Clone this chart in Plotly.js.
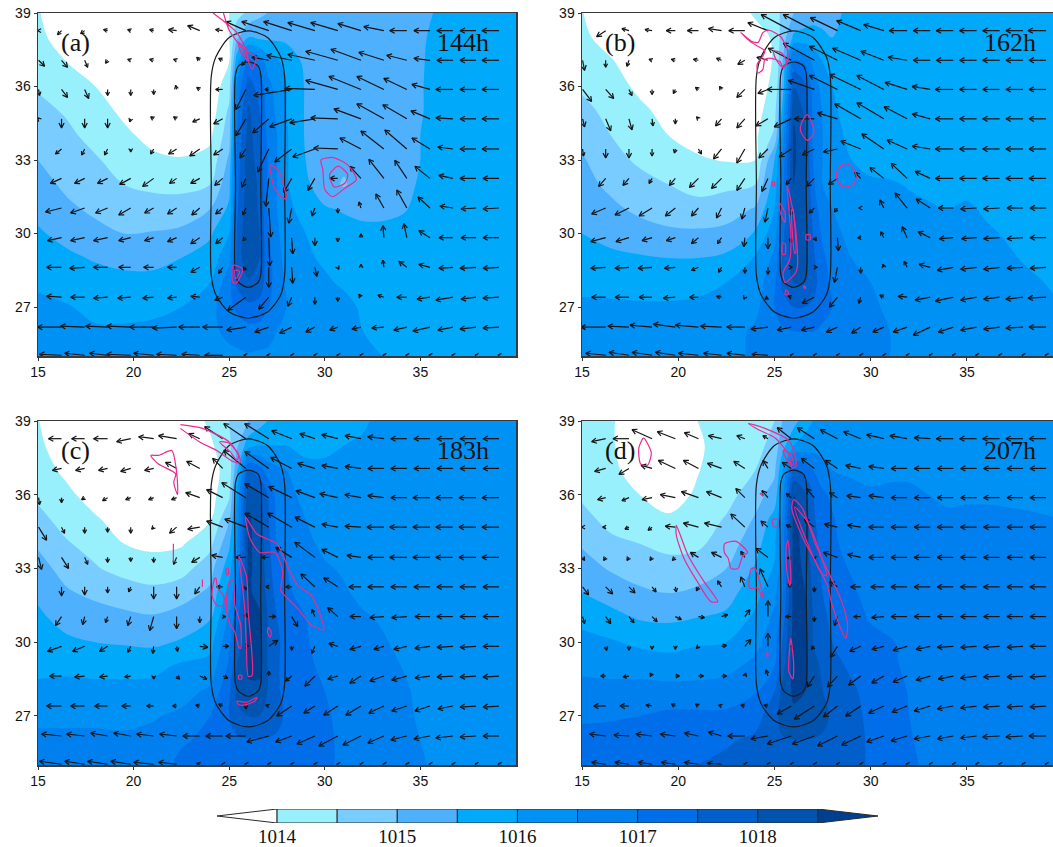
<!DOCTYPE html>
<html><head><meta charset="utf-8">
<script src="https://cdn.plot.ly/plotly-3.0.1.min.js"></script>
<style>html,body{margin:0;padding:0;background:#fff;overflow:hidden}#g{width:1053px;height:847px}</style>
</head><body><div id="g"></div>
<script>
// pressure grid: one list per longitude, south (25N) to north (39N), hPa minus 1000
const gridLons=[15,16.5,18,19.5,21,22.5,24,25,25.4,26,26.6,27,27.5,28,29,30,31,32,33,34,35,36,38,40];
const gridLats=[25,26,27,28,29,30,31,32,33,34,35,36,37,38,39];
const pressA=[
[16.2,16.15,16.1,15.93,15.74,15.56,15.37,15.19,15,14.8,14.63,14.45,14.3,14.1,14.05],
[16.15,16.1,16.03,15.8,15.6,15.35,15.1,14.9,14.75,14.6,14.45,14.25,14,13.8,13.5],
[16.15,16.05,15.9,15.72,15.45,15.15,14.9,14.75,14.55,14.35,14.2,14,13.7,13.5,13.3],
[16.15,16.05,15.9,15.65,15.35,15,14.75,14.5,14.3,14.1,13.9,13.7,13.5,13.3,13.2],
[16.2,16.1,15.9,15.65,15.35,15.03,14.7,14.4,14.1,13.85,13.7,13.6,13.5,13.3,13.2],
[16.25,16.15,16,15.75,15.5,15.1,14.75,14.35,14.03,13.8,13.65,13.6,13.5,13.4,13.3],
[16.3,16.4,16.3,16,15.7,15.43,15,14.5,14.15,13.9,13.7,13.65,13.6,13.5,13.5],
[16.4,16.6,16.9,16.8,16.4,16,15.6,15.35,15.1,14.8,14.6,14.3,14,14,14],
[16.4,16.7,17.1,17.6,17.6,17.55,17.4,17.3,17.2,17,16.9,16.6,15.8,14.9,14.3],
[16.45,16.8,17.4,17.9,18.5,18.5,18.4,18.3,18.3,18.2,18.1,17.7,17.2,15.5,14.6],
[16.4,16.8,17.3,17.8,18,18,17.9,17.9,17.7,17.6,17.5,17.3,16.8,15.4,14.9],
[16.4,16.7,17.05,17.2,17.2,17.1,17,17,17,16.9,16.8,16.7,16.3,15.4,15],
[16.3,16.5,16.8,16.8,16.7,16.6,16.5,16.5,16.5,16.5,16.4,16.3,16.1,15.4,15.1],
[16.25,16.4,16.5,16.4,16.3,16.2,16.1,16.05,16.05,16.05,16,16,15.8,15.4,15.2],
[16.2,16.2,16.2,16.1,16.05,16,15.85,15.6,15.5,15.45,15.45,15.45,15.4,15.3,15.25],
[16.15,16.2,16.15,16.05,15.95,15.9,15.55,15.2,15.25,15.3,15.35,15.35,15.3,15.3,15.25],
[16.1,16.1,16.1,15.95,15.9,15.7,15.45,14.95,15.1,15.2,15.3,15.3,15.3,15.3,15.25],
[16.05,16,15.95,15.9,15.85,15.6,15.4,15.25,15.2,15.25,15.3,15.3,15.3,15.3,15.25],
[16,15.95,15.9,15.85,15.8,15.6,15.4,15.3,15.3,15.3,15.3,15.3,15.3,15.3,15.25],
[15.95,15.9,15.85,15.8,15.75,15.65,15.45,15.35,15.35,15.35,15.35,15.35,15.35,15.35,15.35],
[15.9,15.9,15.85,15.8,15.75,15.7,15.6,15.55,15.5,15.5,15.48,15.48,15.47,15.45,15.4],
[15.9,15.85,15.85,15.8,15.75,15.7,15.65,15.65,15.6,15.6,15.6,15.6,15.6,15.6,15.55],
[15.85,15.85,15.85,15.8,15.75,15.75,15.7,15.7,15.7,15.7,15.7,15.7,15.7,15.7,15.65],
[15.85,15.85,15.8,15.8,15.8,15.75,15.75,15.75,15.75,15.75,15.75,15.75,15.75,15.75,15.7]];
const pressB=[
[16.2,16.15,16.07,15.9,15.7,15.5,15.32,15.15,15.05,14.85,14.65,14.42,14.25,14.1,14.02],
[16.2,16.1,16.05,15.9,15.6,15.35,15.1,14.9,14.7,14.5,14.35,14.2,14.05,13.8,13.6],
[16.2,16.15,16.05,15.85,15.55,15.2,14.9,14.7,14.4,14.25,14.1,13.9,13.7,13.5,13.4],
[16.25,16.15,16.05,15.85,15.5,15.1,14.75,14.5,14.2,14,13.85,13.7,13.55,13.4,13.3],
[16.3,16.2,16.1,15.85,15.5,15.1,14.6,14.4,14.05,13.85,13.75,13.65,13.55,13.4,13.3],
[16.4,16.25,16.15,16,15.6,15.15,14.75,14.4,13.97,13.85,13.8,13.7,13.6,13.5,13.5],
[16.55,16.6,16.35,16.2,16.05,15.55,15.05,14.5,14,13.9,13.8,13.7,13.7,13.7,14.1],
[16.6,16.8,17,16.9,16.6,16.3,16,15.75,15.5,14.6,14.3,14.15,14.05,14.1,14.3],
[16.65,16.9,17.3,17.6,17.5,17.3,17,16.8,16.6,16.1,15.6,15.1,14.9,14.7,14.6],
[16.7,17,17.5,18,18.3,18.4,18.4,18.5,18.6,18.6,18.4,18,17.2,15.6,15],
[16.7,17,17.5,18,18.2,18.2,18.2,18.1,18.1,18,17.9,17.6,16.9,15.7,15.2],
[16.7,17,17.4,17.7,17.6,17.5,17.3,17.1,17,16.9,16.9,16.8,16.4,15.7,15.3],
[16.7,16.9,17.2,17.2,17.1,16.9,16.7,16.5,16.5,16.5,16.45,16.3,16,15.6,15.3],
[16.65,16.85,17,16.9,16.8,16.7,16.5,16.3,16.2,16.15,16.1,16,15.8,15.5,15.4],
[16.6,16.7,16.7,16.6,16.5,16.3,16.2,16.1,16,15.9,15.75,15.7,15.6,15.6,15.6],
[16.6,16.6,16.6,16.5,16.4,16.2,16.15,16.05,15.9,15.8,15.7,15.7,15.65,15.6,15.6],
[16.5,16.5,16.4,16.3,16.2,16.15,16.1,16.05,15.8,15.7,15.7,15.7,15.65,15.65,15.6],
[16.45,16.4,16.3,16.25,16.2,16.15,16.1,15.97,15.8,15.7,15.7,15.7,15.7,15.65,15.65],
[16.4,16.35,16.3,16.25,16.2,16.15,16.05,15.9,15.8,15.75,15.7,15.7,15.7,15.7,15.65],
[16.35,16.3,16.3,16.25,16.2,16.1,16,15.9,15.8,15.75,15.75,15.7,15.7,15.7,15.7],
[16.3,16.3,16.25,16.2,16.15,16.1,16.05,15.9,15.8,15.75,15.75,15.75,15.7,15.7,15.7],
[16.3,16.25,16.2,16.15,16.1,16.05,15.95,15.85,15.8,15.75,15.75,15.75,15.75,15.7,15.7],
[16.2,16.15,16.1,16.05,15.98,15.9,15.85,15.8,15.8,15.75,15.75,15.75,15.75,15.75,15.7],
[16.1,16.05,16,15.95,15.9,15.85,15.8,15.8,15.8,15.75,15.75,15.75,15.75,15.75,15.7]];
const pressC=[
[16.7,16.6,16.4,16.1,15.9,15.7,15.6,15.4,15.15,14.95,14.65,14.4,14.2,14.1,14.02],
[16.7,16.6,16.4,16.15,15.9,15.6,15.3,15.05,14.85,14.55,14.3,14.1,13.9,13.7,13.6],
[16.7,16.6,16.4,16.15,15.85,15.5,15.2,14.9,14.55,14.3,14.05,13.8,13.6,13.5,13.4],
[16.7,16.6,16.35,16.15,15.85,15.45,15.1,14.8,14.3,14,13.8,13.6,13.5,13.4,13.4],
[16.8,16.65,16.45,16.2,15.85,15.4,15.05,14.65,14.2,13.9,13.7,13.6,13.5,13.5,13.5],
[17.1,16.95,16.6,16.3,16.1,15.55,15.2,14.8,14.3,13.95,13.7,13.6,13.5,13.6,13.6],
[17.2,17.1,17,16.6,16.2,15.8,15.45,15.1,14.8,14.35,13.95,13.8,13.8,13.9,14.1],
[17.15,17.3,17.5,17.4,17.1,16.9,16.6,16.2,15.8,15.4,14.95,14.4,14.2,14.4,14.5],
[17.25,17.4,17.9,18.1,18,17.7,17.3,16.9,16.6,16.4,16.2,16,15.4,14.9,14.7],
[17.3,17.45,18,18.4,18.6,18.6,18.6,18.6,18.6,18.6,18.6,18.3,17.5,15.8,15],
[17.3,17.45,18,18.4,18.6,18.6,18.6,18.3,18.3,18.3,18.2,18,17.2,16,15.3],
[17.3,17.45,17.9,18,18,18,18,17.9,17.8,17.7,17.6,17.5,16.8,16,15.5],
[17.25,17.4,17.7,17.6,17.6,17.6,17.5,17.3,17.1,17,16.9,16.8,16.6,16,15.6],
[17.2,17.3,17.4,17.3,17.2,17.3,17.2,17.1,17,16.8,16.7,16.6,16.5,16,15.7],
[17.2,17.2,17.2,17.2,17.1,17.05,17,16.8,16.7,16.6,16.5,16.4,16.1,15.9,15.8],
[17.05,17.05,17.05,17,16.9,16.8,16.7,16.6,16.55,16.4,16.3,16.2,16.1,15.9,15.8],
[16.95,16.95,16.9,16.8,16.75,16.7,16.6,16.55,16.45,16.3,16.2,16.15,16.1,16,15.85],
[16.85,16.85,16.8,16.75,16.7,16.6,16.55,16.4,16.3,16.2,16.2,16.15,16.1,16.05,15.95],
[16.8,16.75,16.7,16.65,16.6,16.55,16.45,16.3,16.25,16.2,16.2,16.15,16.1,16.1,16.1],
[16.7,16.65,16.6,16.6,16.5,16.4,16.35,16.3,16.25,16.2,16.2,16.15,16.15,16.1,16.1],
[16.55,16.5,16.45,16.4,16.4,16.35,16.3,16.3,16.25,16.2,16.2,16.2,16.15,16.15,16.1],
[16.4,16.4,16.35,16.35,16.3,16.3,16.3,16.25,16.25,16.2,16.2,16.2,16.2,16.15,16.15],
[16.35,16.35,16.3,16.3,16.3,16.25,16.25,16.25,16.2,16.2,16.2,16.2,16.2,16.2,16.15],
[16.3,16.3,16.3,16.25,16.25,16.25,16.25,16.2,16.2,16.2,16.2,16.2,16.2,16.2,16.2]];
const pressD=[
[17.3,17.1,16.95,16.65,16.4,16.1,15.9,15.5,15.2,14.95,14.7,14.4,14.3,14.2,14.1],
[17.3,17.1,16.97,16.65,16.35,16.05,15.65,15.3,14.95,14.65,14.3,14.2,14.1,14.05,14.05],
[17.35,17.15,17,16.7,16.3,15.9,15.45,15.1,14.75,14.5,14.2,14,13.8,13.7,13.7],
[17.4,17.2,17.1,16.7,16.2,15.85,15.4,15,14.7,14.35,14.05,13.85,13.7,13.7,13.7],
[17.5,17.4,17.1,16.7,16.25,15.95,15.5,15.1,14.75,14.4,14.2,14.05,13.98,13.95,14],
[17.6,17.45,17.1,16.75,16.35,16,15.6,15.3,15,14.75,14.55,14.3,14.2,14.15,14.1],
[17.75,17.6,17.3,16.95,16.65,16.35,16.1,15.8,15.55,15.3,15.05,14.8,14.5,14.3,14.2],
[17.85,17.9,17.8,17.5,17,16.8,16.6,16.4,16.05,15.9,15.7,15.2,14.9,14.7,14.5],
[17.85,17.95,18.2,18.1,17.8,17.5,17.2,16.9,16.8,16.7,16.5,16.2,15.9,15.3,15],
[17.9,17.98,18.4,18.6,18.7,18.7,18.7,18.7,18.7,18.7,18.7,18.5,17.6,16,15.3],
[17.9,17.98,18.3,18.5,18.6,18.6,18.6,18.5,18.4,18.3,18.3,18.1,17.3,16.2,15.8],
[17.9,17.98,18.2,18.3,18.2,18,18,17.9,17.8,17.7,17.6,17.5,17,16.3,16],
[17.9,17.95,18.1,18,17.9,17.7,17.6,17.5,17.4,17.3,17.2,17.1,16.7,16.3,16.1],
[17.9,17.95,17.95,17.85,17.7,17.5,17.4,17.3,17.2,17.1,17.05,16.9,16.5,16.3,16.2],
[17.75,17.75,17.7,17.6,17.4,17.3,17.2,17.1,16.95,16.8,16.7,16.6,16.45,16.3,16.2],
[17.4,17.4,17.35,17.3,17.2,17.15,16.95,16.8,16.7,16.65,16.6,16.55,16.4,16.3,16.25],
[17.2,17.2,17.2,17.15,17.1,17.05,16.8,16.75,16.7,16.6,16.6,16.55,16.45,16.3,16.3],
[17.05,17.03,17,16.98,16.9,16.85,16.75,16.7,16.65,16.6,16.6,16.55,16.45,16.4,16.35],
[16.95,16.9,16.85,16.8,16.8,16.75,16.7,16.65,16.65,16.6,16.55,16.5,16.4,16.4,16.35],
[16.9,16.85,16.8,16.8,16.75,16.7,16.65,16.65,16.6,16.55,16.52,16.48,16.42,16.4,16.35],
[16.85,16.8,16.8,16.75,16.7,16.65,16.65,16.6,16.6,16.55,16.53,16.48,16.42,16.4,16.35],
[16.8,16.8,16.75,16.75,16.7,16.65,16.65,16.6,16.6,16.55,16.53,16.48,16.42,16.4,16.35],
[16.8,16.75,16.75,16.7,16.7,16.65,16.6,16.6,16.6,16.58,16.53,16.45,16.42,16.4,16.35],
[16.75,16.75,16.7,16.7,16.65,16.65,16.6,16.6,16.6,16.58,16.5,16.45,16.42,16.4,16.35]];

// wind vectors: rows north to south, columns west to east
const windLons=[15.03,16.23,17.44,18.64,19.85,21.05,22.25,23.46,24.66,25.87,27.07,28.27,29.48,30.68,31.89,33.09,34.29,35.5,36.7,37.91,39.11];
const windLats=[38.28,37.07,35.88,34.68,33.45,32.25,31.04,29.83,28.62,27.4,26.18,25.03];
const uA=[
[-1,-4,-4,-4,-3,-4,-8,-12,-7,-20,-27,-28,-27,-27,-23,-20,-17,-16,-16,-16,-17],
[6,6,3,-2,-3,-4,-3,-3,-4,-4,-17,-25,-27,-32,-30,-25,-20,-16,-16,-16,-17],
[1,6,4,0,0,0,-1,-3,-7,-10,-4,-38,-30,-32,-32,-27,-23,-18,-17,-16,-17],
[-1,0,0,0,-1,-3,-3,-7,-9,-10,-16,-22,-25,-27,-27,-27,-24,-19,-17,-16,-17],
[0,-6,-3,-3,0,-3,-8,-10,-9,-6,-11,-17,-22,-24,-21,-23,-22,-18,-15,-16,-17],
[0,-11,-10,-10,-11,-11,-7,-9,-8,-4,-3,-8,-7,-8,-11,-15,-12,-15,-14,-16,-16],
[0,-16,-14,-12,-12,-9,-9,-8,-7,-3,2,-3,-3,0,-2,-8,-10,-12,-13,-15,-16],
[0,-14,-14,-14,-12,-9,-9,-9,-7,-3,1,1,0,0,0,-1,-3,-11,-14,-15,-16],
[0,-15,-15,-14,-12,-10,-9,-9,-4,-3,0,1,2,1,0,-1,-8,-11,-14,-16,-16],
[0,-15,-14,-14,-13,-11,-9,-9,-8,-18,-10,-4,0,0,-2,-6,-10,-13,-17,-15,-16],
[0,-24,-24,-22,-24,-24,-24,-21,-20,-19,-14,-12,-9,-8,-9,-12,-13,-17,-15,-16,-16],
[0,-22,-20,-18,-24,-20,-20,-18,-18,-2,-2,-1,-1,-1,-1,-1,-1,-1,-1,-1,-1]];
const vA=[
[0,-4,-3,1,1,1,1,5,1,9,9,9,8,8,7,4,0,0,0,0,0],
[-6,-7,-7,-3,1,1,1,3,2,-5,3,5,6,9,11,8,5,2,0,0,0],
[-6,-8,-9,-6,-6,-5,4,2,0,-20,0,-6,1,9,13,13,11,5,0,0,0],
[1,-9,-9,-9,-3,2,2,-3,-5,-17,-14,-8,-4,1,10,15,14,8,1,0,0],
[0,-5,-6,-6,-3,-5,-5,-7,-6,-9,-23,-13,-8,1,11,18,19,11,2,0,0],
[0,-5,-5,-5,-6,-8,-5,-5,-7,-9,-28,-14,-12,0,12,19,18,12,3,0,0],
[0,-4,-5,-5,-7,-5,-6,-7,-6,-7,-29,-15,-8,-5,6,14,18,11,2,-1,-1],
[0,-3,-3,-3,-3,-3,-4,-6,-6,-3,-28,-16,-8,-4,4,12,14,7,0,0,0],
[0,0,-1,0,0,0,0,-5,-6,-3,-20,-16,-9,-2,3,7,6,3,-1,-1,-1],
[0,1,0,-1,-1,-1,-1,1,-3,-13,-12,-9,-7,-4,3,2,0,-2,-3,-2,-1],
[0,0,1,1,1,0,-1,0,0,-3,-5,-6,-5,-3,-2,-1,-3,-4,-3,-2,-1],
[0,1,2,2,1,2,1,1,0,0,0,0,0,0,0,0,0,0,0,0,0]];
const uB=[
[0,-9,-7,-7,-9,-11,-13,-16,-20,-30,-31,-27,-24,-20,-18,-17,-17,-17,-17,-17,-18],
[2,0,-2,-3,-4,-5,-5,-7,-11,-23,-31,-28,-28,-23,-19,-17,-17,-17,-17,-17,-17],
[9,8,3,0,-2,-3,-2,-8,-10,-24,-26,-28,-31,-27,-22,-18,-18,-17,-17,-17,-17],
[2,5,3,1,0,-2,-6,-8,-12,-17,-20,-20,-26,-27,-23,-18,-18,-17,-17,-17,-17],
[1,0,0,0,-1,3,-8,-8,-9,-12,-12,-14,-20,-22,-20,-18,-18,-17,-17,-17,-17],
[0,-7,-6,-3,-6,-9,-10,-8,-6,-5,-8,-9,-6,-14,-16,-15,-18,-17,-17,-17,-17],
[0,-14,-14,-13,-10,-7,-5,-3,-3,0,-5,-3,-2,-4,-12,-14,-15,-16,-16,-16,-16],
[0,-15,-13,-10,-9,-7,-4,-1,0,0,2,1,-3,-3,-5,-12,-14,-15,-16,-16,-16],
[0,-15,-14,-14,-11,-7,-3,0,0,1,3,-3,0,-1,-3,-11,-16,-16,-16,-16,-16],
[0,-14,-14,-13,-12,-9,-5,-1,-3,-3,-12,-8,-2,-4,-9,-15,-18,-16,-16,-17,-18],
[-1,-25,-21,-22,-22,-23,-21,-18,-17,-14,-13,-11,-9,-11,-14,-17,-15,-16,-16,-17,-17],
[0,-20,-20,-20,-20,-20,-18,-18,-16,-1,-1,-1,-1,-1,-1,-1,-1,-1,-1,-1,-1]];
const vB=[
[0,-6,2,1,0,0,2,0,8,16,16,13,10,6,0,0,0,0,0,0,0],
[-10,-7,-6,1,1,1,2,-4,3,12,17,14,12,9,3,0,0,0,0,0,0],
[-12,-9,-6,-5,-4,2,3,-8,-4,0,9,14,15,14,7,3,0,0,0,0,0],
[-8,-12,-11,-7,-5,2,-7,-9,-7,-8,0,6,15,16,12,5,0,0,0,0,0],
[-7,-9,-9,-7,-4,-5,-10,-14,-9,-8,-6,-3,8,15,9,3,0,0,0,0,0],
[0,-8,-7,-5,-7,-9,-10,-12,-13,-6,-8,-6,6,11,15,7,0,0,0,0,0],
[0,-6,-7,-8,-8,-8,-10,-11,-14,-7,-5,-4,0,8,15,9,0,-1,-1,0,0],
[0,-4,-4,-3,-3,-6,-6,-9,-11,-5,-3,-13,0,6,11,6,-1,-1,-1,-1,0],
[0,-1,-1,-1,-1,-3,-5,-6,-7,0,0,-15,-6,3,6,3,-3,-2,-2,-1,-1],
[0,0,0,0,-1,0,1,-2,-2,1,-6,-10,-6,2,1,-3,-4,-3,-2,-2,-1],
[0,0,1,2,3,2,1,0,-2,-3,-3,-5,-6,-5,-5,-8,-5,-3,-2,-1,0],
[0,2,3,3,3,2,2,2,1,0,0,0,0,0,0,0,0,0,0,0,0]];
const uC=[
[0,-13,-13,-14,-14,-15,-18,-11,-18,-22,-24,-20,-15,-16,-16,-16,-16,-16,-16,-16,-16],
[0,-9,-9,-9,-10,-9,-11,-13,-10,-22,-24,-21,-17,-16,-16,-16,-16,-16,-16,-16,-16],
[1,0,-3,-5,-5,-5,-5,-14,-16,-24,-24,-23,-19,-18,-16,-16,-16,-17,-17,-17,-17],
[8,3,0,0,0,-2,-7,-12,-16,-21,-24,-24,-20,-16,-16,-17,-17,-17,-17,-17,-17],
[3,7,3,0,0,0,-3,-8,-11,-10,-7,-16,-20,-16,-14,-16,-17,-17,-17,-17,-17],
[0,0,0,0,-2,0,0,-5,-6,0,-3,-6,-14,-14,-12,-16,-16,-16,-16,-16,-16],
[0,-6,-2,-2,-3,-4,0,0,3,1,7,6,-3,-10,-11,-14,-15,-15,-16,-16,-16],
[0,-14,-12,-8,-3,-1,1,8,6,3,9,0,-3,-9,-11,-10,-13,-15,-16,-16,-16],
[0,-12,-10,-8,-6,0,3,7,5,0,0,-6,-10,-10,-11,-14,-15,-15,-16,-16,-16],
[0,-15,-14,-13,-9,-7,-4,-4,-4,0,-3,-15,-11,-14,-15,-15,-15,-15,-15,-16,-16],
[0,-20,-18,-17,-17,-17,-17,-17,-17,-20,-22,-16,-18,-19,-18,-16,-16,-16,-17,-16,-16],
[0,-22,-20,-20,-20,-20,-18,-3,-1,-1,-1,-1,-1,-1,-1,-1,-1,-1,-1,-1,-1]];
const vC=[
[0,0,0,0,-3,2,3,5,12,15,15,8,5,4,3,2,0,0,0,0,0],
[0,-2,-2,-2,-3,-2,6,7,10,18,17,11,5,3,2,0,0,0,0,0,0],
[-7,-5,-2,-3,-2,-2,-2,5,8,15,14,11,7,4,3,2,0,0,0,0,0],
[-13,-6,-6,-5,-6,-2,-6,-2,6,8,14,14,10,3,1,0,0,0,0,0,0],
[-12,-11,-7,-5,-4,-5,-7,-5,2,0,0,10,15,8,2,0,0,0,0,0,0],
[0,-9,-8,-6,-5,-12,-12,-7,0,-3,0,0,13,9,0,0,0,0,0,0,0],
[0,-9,-8,-6,-9,-14,-12,-6,0,3,0,-10,7,9,0,-1,-1,0,0,0,0],
[0,-5,-5,-5,-6,-7,-5,-1,0,0,6,-4,-7,3,-3,-3,-3,-2,-1,-1,0],
[0,0,-1,-1,-1,-3,-3,-3,-2,0,5,-5,-10,-3,-7,-5,-4,-2,-1,-1,-1],
[0,0,0,0,0,0,0,1,2,-3,1,-10,-7,-9,-9,-7,-5,-5,-3,-1,-1],
[0,2,2,3,3,2,2,0,0,0,-6,-6,-8,-10,-9,-7,-4,-3,-2,-1,0],
[0,3,3,3,3,2,2,1,0,0,0,0,0,0,0,0,0,0,0,0,0]];
const uD=[
[0,-14,-16,-20,-18,-14,-13,-8,-5,-14,-17,-17,-17,-17,-17,-16,-17,-17,-17,-17,-17],
[0,-11,-10,-11,-17,-15,-14,-11,-5,-9,-13,-12,-15,-15,-16,-16,-16,-16,-16,-16,-16],
[0,-8,-7,-10,-15,-17,-15,-9,-6,-5,-8,-8,-14,-15,-16,-16,-16,-16,-16,-16,-16],
[-1,-3,-4,-4,-10,-15,-17,-14,-7,-5,-10,-13,-13,-15,-16,-16,-16,-16,-16,-16,-16],
[2,-2,-2,-2,-3,-8,-10,-4,-12,-4,0,-14,-13,-15,-16,-16,-16,-16,-16,-16,-16],
[6,7,6,4,1,-2,-4,-4,-8,-3,0,-8,-10,-13,-16,-16,-16,-16,-16,-16,-16],
[2,5,5,5,6,6,6,5,0,-6,0,-3,-7,-12,-16,-16,-16,-16,-16,-16,-16],
[0,1,0,0,0,-2,5,6,0,0,-3,-7,-11,-12,-14,-14,-16,-16,-16,-16,-16],
[0,-5,-6,-2,4,5,5,1,-2,0,-7,-10,-12,-12,-14,-14,-15,-16,-16,-16,-16],
[0,-12,-9,-6,-4,-3,-3,-4,-4,-14,-20,-14,-15,-15,-15,-16,-16,-16,-16,-16,-16],
[0,-16,-15,-16,-15,-14,-13,-17,-17,-24,-22,-20,-19,-17,-16,-16,-16,-16,-17,-17,-17],
[0,-14,-14,-14,-14,-14,-14,-1,-1,-1,-1,-1,-1,-1,-1,-1,-1,-1,-1,-1,-1]];
const vD=[
[0,-3,0,9,7,6,3,3,3,11,11,9,7,4,3,1,0,0,0,0,0],
[0,-3,-6,3,8,8,5,7,8,6,10,8,3,2,0,0,0,0,0,0,0],
[0,-2,-3,-2,3,6,6,9,7,4,9,5,2,2,0,0,0,0,0,0,0],
[0,0,-2,-3,1,4,4,13,6,2,8,3,2,0,0,0,0,0,0,0,0],
[-3,-3,-3,-3,-3,5,5,6,9,-1,-2,5,3,0,0,0,0,0,0,0,0],
[-8,-7,-6,-5,-5,-4,6,10,18,3,-5,5,0,0,0,0,0,0,0,0,0],
[-7,-7,-6,-5,-3,-1,2,7,16,0,-5,-9,0,-1,0,0,0,0,0,0,0],
[0,-4,-4,-3,-3,-2,1,7,13,1,-3,-11,-5,-3,-4,-3,-1,-1,-1,-1,0],
[0,0,-1,3,0,0,0,3,6,0,-11,-11,-9,-7,-6,-4,-3,-2,-1,-1,-1],
[0,0,0,1,2,2,1,1,1,-8,-13,-11,-10,-7,-6,-5,-3,-2,-1,-1,-1],
[0,2,1,2,2,3,4,0,-3,-8,-8,-10,-9,-6,-5,-3,-3,-2,-1,-1,0],
[0,2,2,2,2,2,1,0,0,0,0,0,0,0,0,0,0,0,0,0,0]];

// storm track outlines (same in all panels)
const outerLon=[24.06,24.06,24.06,24.3,25,26,27,27.7,27.9,27.9,27.9,27.7,27,26,25,24.3,24.06];
const outerLat=[28.3,32,36.4,37.2,38,38.27,38,37.2,36.4,32,28.3,27.5,26.8,26.55,26.8,27.5,28.3];
const innerLon=[25.33,25.33,25.33,25.5,26,26.5,26.65,26.65,26.65,26.5,26,25.5,25.33];
const innerLat=[28.3,32,36.5,36.85,37,36.85,36.5,32,28.3,28,27.8,28,28.3];

// magenta contours
const pinkAx=[24.15,25.4,26,26.4,26.2,25.8,25,24.7,null,25.5,25.85,26,25.75,25.55,25.5,null,27.15,27.6,27.9,28.05,27.7,27.35,27.15,null,29.8,30.45,31.2,31.65,31.05,30.4,30,29.9,29.8,null,30.25,30.7,31.2,31.05,30.5,30.25,null,25.2,25.7,25.4,25.2,25.2,null,25.3,25.55,25.35,25.3];
const pinkAy=[39,38.2,37.4,37.2,36.7,37.4,38.3,39,null,37.8,37.5,37.05,37.25,37.5,37.8,null,32.8,32.55,31.8,31.4,31.5,31.9,32.8,null,33,33.1,32.8,32.2,31.85,31.5,31.8,32.6,33,null,32.4,32.75,32.4,32.05,31.9,32.4,null,28.7,28.55,28,28,28.7,null,28.5,28.45,28.15,28.5];
const pinkBx=[23.25,23.8,24.15,24.4,24.7,25.3,25.65,25.7,25.45,25.3,24.85,24.5,24.4,24.15,24.1,24.4,24.5,23.8,23.25,null,24.95,25.4,25.65,25.4,25.05,24.95,null,26.7,26.95,27.05,26.7,26.35,26.4,26.7,null,28.6,29,29.25,29.1,28.6,28.25,28.25,28.6,null,24.9,25,25,24.9,24.9,null,25.65,25.8,26.1,26.2,26.1,25.55,25.45,25.8,25.85,25.65,null,25.25,25.55,25.55,25.3,25.25,null,26.65,26.85,26.85,26.65,26.65,null,25.42,25.55,25.55,25.42,25.42,null,25.6,25.75,25.55,25.6,null,25.9,26.05,26.1,25.95,25.9,null,26.5,26.6,26.6,26.5];
const pinkBy=[38.2,37.85,37.8,38.2,38.3,38.05,37.55,37.05,36.75,37,37.15,37.1,36.7,36.55,36.9,37.25,37.45,37.8,38.2,null,37.45,37.35,36.95,36.8,37.15,37.45,null,34.85,34.5,34.1,33.8,34.2,34.5,34.85,null,32.85,32.75,32.35,32,31.9,32.2,32.55,32.85,null,32.1,32.1,31.95,31.95,32.1,null,31.95,31.55,30.2,28.7,28.4,28,28.4,28.95,30,31.95,null,31.25,30.85,30.45,30.85,31.25,null,29.95,29.95,29.75,29.75,29.95,null,29.6,29.6,29.15,29.15,29.6,null,27.7,27.55,27.5,27.7,null,31,29.2,29.2,31,31,null,27.85,27.85,27.75,27.85];
const pinkCx=[22.45,23.6,25,25.55,25.55,25.2,24.35,23.45,22.45,null,24.5,25,25.5,25.4,25.05,24.5,null,20.9,21.3,22,22.2,22.3,22.3,22.1,22.2,21.3,20.9,null,22.08,22.08,null,25.85,26.45,27.5,28.05,28.6,29.3,29.95,29.3,28.6,27.9,27.7,27.8,27.4,26.6,26.1,25.85,null,25.5,25.9,26,26.2,26,25.9,25.8,25.6,25.5,null,25.2,25.3,25.6,25.6,25.5,25.3,25,24.85,25,25.2,null,24.3,24.4,24.7,24.7,24.35,24.1,24.25,24.3,null,24.85,24.95,24.95,24.85,24.85,null,23.6,23.6,null,27.05,27.2,27.15,27,27.05,null,25.4,25.9,26.45,26.35,25.85,25.5,25.4,null,25.5,25.65,25.65,25.5,25.5];
const pinkCy=[38.85,38.7,38.15,37.5,37.3,37.35,37.8,38.15,38.7,null,38.15,38.1,37.6,37.4,37.75,38.15,null,37.6,37.6,37.8,37.2,36.4,36,36.5,36.85,37.25,37.6,null,34,33.25,null,35.1,34.4,34,33.1,32.3,31.9,30.5,30.7,31.35,31.9,32.1,32.85,33.65,33.65,34.2,35.1,null,33.5,32.7,31.2,28.65,28.6,29.85,31.5,32.85,33.5,null,32.5,31.5,30.7,29.75,29.8,30.4,30.8,31.5,32.45,32.5,null,32.6,32.2,31.9,31.5,31.5,31.9,32.6,32.6,null,33,33,32.75,32.75,33,null,32.55,32.25,null,30.6,30.4,30.2,30.4,30.6,null,27.6,27.55,27.75,27.6,27.45,27.45,27.6,null,28.65,28.65,28.5,28.5,28.65];
const pinkDx=[23.65,24.5,25.75,26.1,26.1,25.9,25.75,25.05,24.15,23.65,null,25.45,25.8,26,25.65,25.45,null,18.2,18.6,18.4,18.05,17.95,18.2,null,19.9,20.5,21.35,22.05,21.7,21,20.3,19.9,19.9,null,22.4,23,23.6,23.35,23.1,22.75,22.6,22.4,22.4,null,23.8,24,24.35,24.35,24.15,23.7,23.8,null,24.9,25.15,25.15,24.95,24.9,null,24.25,24.4,24.4,24.25,null,25.7,25.85,25.8,25.65,25.6,25.7,null,26,26.45,27.15,27.8,28.5,28.8,28.7,28,27.75,27.15,26.5,25.9,26,null,26.05,26.75,27.7,27.45,26.55,26.05,null,25.85,26,25.95,25.75,25.75,25.85,null,24.55,24.65,24.65,24.55];
const pinkDy=[38.9,38.7,38.2,37.5,37.15,37.1,37.6,38.3,38.65,38.9,null,37.8,37.7,37.2,37.4,37.8,null,38.3,37.7,37.2,37.25,37.9,38.3,null,34.75,33.55,32.45,31.65,31.65,32.45,33.4,34.35,34.75,null,34,34.1,33.65,33.5,33,33,33.4,33.65,34,null,33,33,32.05,31.8,32.2,32.2,33,null,35,35,34.7,34.7,35,null,36.05,36.05,35.95,36.05,null,34.15,32.6,32.3,32.85,33.8,34.15,null,35.8,35.45,33.95,32.85,31.65,30.7,30.15,31.5,32.3,33.25,34.2,35.45,35.8,null,35.5,34.85,32.7,32.8,34.35,35.5,null,30.15,29.05,28.5,28.8,29.3,30.15,null,29.55,29.55,29.4,29.55];

// pressure levels and colours (band above each level)
const levels=[1014,1014.5,1015,1015.5,1016,1016.5,1017,1017.5,1018,1018.5];
const bandColors=['#ffffff','#97f0fb','#78ccff','#4fb0fe','#00a9fa','#0091f5','#0080ee','#006ee8','#005fca','#0053ae','#003f90'];
const levelTicks=[1014,1015,1016,1017,1018];
const lonTicks=[15,20,25,30,35];
const latTicks=[27,30,33,36,39];
const panelTags=['(a)','(b)','(c)','(d)'];
const panelTimes=['144h','162h','183h','207h'];

const W=1053,H=847;
const boxes=[[38,516,13,356,40],[582,1053,13,356,39.47],[38,516,421,765,40],[582,1053,421,765,39.47]];
const zmin=1013.5,zmax=1019,nb=bandColors.length;
const cs=[];bandColors.forEach((c,i)=>{cs.push([i/nb,c]);cs.push([(i+1)/nb,c]);});
const press=[pressA,pressB,pressC,pressD],us=[uA,uB,uC,uD],vs=[vA,vB,vC,vD];
const pinkX=[pinkAx,pinkBx,pinkCx,pinkDx],pinkY=[pinkAy,pinkBy,pinkCy,pinkDy];
const traces=[];
const layout={width:W,height:H,margin:{l:0,r:0,t:0,b:0},paper_bgcolor:'#fff',plot_bgcolor:'#fff',showlegend:false,annotations:[],font:{family:'Liberation Sans',color:'#111'}};
boxes.forEach((b,p)=>{
  const s=p?String(p+1):'';const xa='x'+s,ya='y'+s;
  const pxLon=(b[1]-b[0])/(b[4]-15),pxLat=(b[3]-b[2])/14;
  const z=gridLats.map((_,j)=>gridLons.map((_,i)=>1000+press[p][i][j]));
  traces.push({type:'contour',x:gridLons,y:gridLats,z:z,xaxis:xa,yaxis:ya,zmin:zmin,zmax:zmax,colorscale:cs,showscale:false,hoverinfo:'skip',
    autocontour:false,contours:{coloring:'fill',start:1014,end:1018.5,size:0.5,showlines:false},line:{width:0,smoothing:1}});
  const ax=[],ay=[];
  windLats.forEach((la,r)=>windLons.forEach((lo,c)=>{
    const u=us[p][r][c],v=vs[p][r][c];if(!u&&!v)return;
    const m=Math.hypot(u,v),hl=m<8?4:5.5,ca=Math.cos(0.5),sa=Math.sin(0.5);
    const hx=lo+u/pxLon,hy=la+v/pxLat,ex=-u/m,ey=-v/m;
    ax.push(lo,hx,null);
    ax.push(hx+hl*(ex*ca-ey*sa)/pxLon,hx,hx+hl*(ex*ca+ey*sa)/pxLon,null);
    ay.push(la,hy,null);
    ay.push(hy+hl*(ex*sa+ey*ca)/pxLat,hy,hy+hl*(-ex*sa+ey*ca)/pxLat,null);
  }));
  traces.push({type:'scatter',mode:'lines',x:ax,y:ay,xaxis:xa,yaxis:ya,line:{color:'#141414',width:1.2},hoverinfo:'skip'});
  [[outerLon,outerLat],[innerLon,innerLat]].forEach(t=>traces.push({type:'scatter',mode:'lines',x:t[0],y:t[1],xaxis:xa,yaxis:ya,line:{color:'#1c1c1c',width:1.2,shape:'spline',smoothing:0.8},hoverinfo:'skip'}));
  traces.push({type:'scatter',mode:'lines',x:pinkX[p],y:pinkY[p],xaxis:xa,yaxis:ya,line:{color:'#ee2a8e',width:1.2,shape:'spline',smoothing:0.7},hoverinfo:'skip'});
  const key=s;
  layout['xaxis'+key]={domain:[b[0]/W,b[1]/W],range:[15,b[4]],tickvals:lonTicks,ticks:'outside',ticklen:3,tickcolor:'#333',showgrid:false,zeroline:false,showline:true,linecolor:'#3a3a3a',linewidth:1.5,mirror:true,anchor:ya,tickfont:{family:'Liberation Sans',size:14,color:'#111'}};
  layout['yaxis'+key]={domain:[1-b[3]/H,1-b[2]/H],range:[25,39],tickvals:latTicks,ticks:'outside',ticklen:3,tickcolor:'#333',showgrid:false,zeroline:false,showline:true,linecolor:'#3a3a3a',linewidth:1.5,mirror:b[4]===40,anchor:xa,tickfont:{family:'Liberation Sans',size:14,color:'#111'}};
  layout.annotations.push({xref:xa,yref:ya,x:16.1,y:37.8,text:panelTags[p],showarrow:false,xanchor:'left',yanchor:'middle',font:{family:'Liberation Serif',size:26,color:'#111'}});
  layout.annotations.push({xref:xa,yref:ya,x:38.68,y:37.8,text:panelTimes[p],showarrow:false,xanchor:'right',yanchor:'middle',font:{family:'Liberation Serif',size:26,color:'#111'}});
});
// level key built from the same levels and colours
const allEdges=[zmin].concat(levels,[zmax]);
bandColors.forEach((c,i)=>{
  const a=allEdges[i],b=allEdges[i+1];let x,y;
  if(i===0){x=[a,b,b,a];y=[0.5,1,0,0.5];}
  else if(i===nb-1){x=[a,b,a,a];y=[1,0.5,0,1];}
  else{x=[a,b,b,a,a];y=[0,0,1,1,0];}
  traces.push({type:'scatter',mode:'lines',x:x,y:y,xaxis:'x5',yaxis:'y5',fill:'toself',fillcolor:c,line:{color:'#2a2a2a',width:1},hoverinfo:'skip'});
});
layout.xaxis5={domain:[217/W,878/W],range:[zmin,zmax],tickvals:levelTicks,ticks:'',showgrid:false,zeroline:false,showline:false,anchor:'y5',tickfont:{family:'Liberation Serif',size:19,color:'#111'}};
layout.yaxis5={domain:[1-823/H,1-809/H],range:[0,1],showticklabels:false,ticks:'',showgrid:false,zeroline:false,showline:false,anchor:'x5'};
Plotly.newPlot('g',traces,layout,{staticPlot:true,displayModeBar:false});
</script></body></html>
